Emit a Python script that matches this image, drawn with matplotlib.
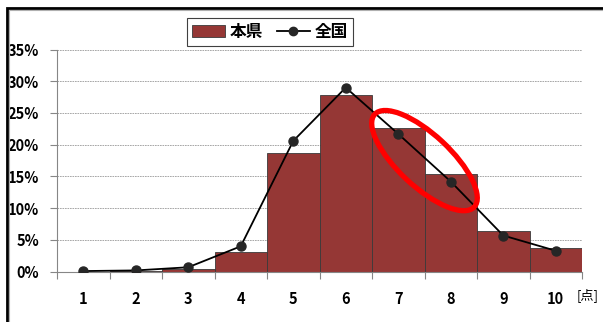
import matplotlib
matplotlib.use('Agg')
import matplotlib.pyplot as plt
import numpy as np
from matplotlib.patches import Ellipse, Patch, Rectangle
from matplotlib.lines import Line2D
from matplotlib.transforms import Affine2D, ScaledTranslation

plt.rcParams['font.family'] = ['Noto Sans CJK JP', 'DejaVu Sans']

# score distribution: prefecture (bars) vs national (line)
scores = [1, 2, 3, 4, 5, 6, 7, 8, 9, 10]
pref = [0.0002, 0.0008, 0.0047, 0.031, 0.187, 0.278, 0.227, 0.154, 0.064, 0.038]
national = [0.001, 0.002, 0.007, 0.040, 0.206, 0.290, 0.217, 0.142, 0.057, 0.033]
yticks = [0, 0.05, 0.10, 0.15, 0.20, 0.25, 0.30, 0.35]

fig = plt.figure(figsize=(6.03, 3.22), dpi=100)
ax = fig.add_axes([57/603, 1-271.7/322, 525/603, 222.2/322])

ax.bar(scores, pref, width=1.0, color='#953735', edgecolor='#3a3a3a', linewidth=0.6, zorder=2)
ax.plot(scores, national, color='black', lw=1.3, marker='o', markersize=6.5,
        markerfacecolor='#262626', markeredgecolor='#262626', zorder=3)

ax.set_xlim(0.5, 10.5)
ax.set_ylim(0, 0.35)
ax.set_yticks(yticks)
ax.set_yticklabels(['%d%%' % round(v*100) for v in yticks])
ax.yaxis.grid(True, color='#9a9a9a', linestyle=(0, (2, 1)), linewidth=0.6, zorder=0)

# ticks at the category boundaries, labels at the centres
ax.set_xticks(np.arange(0.5, 11, 1.0))
ax.set_xticklabels([])
ax.set_xticks(scores, minor=True)
ax.set_xticklabels([str(s) for s in scores], minor=True)
ax.tick_params(axis='x', which='major', length=5, color='#868686', width=0.8)
ax.tick_params(axis='x', which='minor', length=0, pad=14)
ax.tick_params(axis='y', length=5, color='#868686', width=0.8, pad=8)
for lab in ax.get_xticklabels(minor=True) + ax.get_yticklabels():
    lab.set_fontsize(10.5)
    lab.set_fontweight('bold')

for s in ['top', 'right']:
    ax.spines[s].set_visible(False)
for s in ['left', 'bottom']:
    ax.spines[s].set_color('#868686')
    ax.spines[s].set_linewidth(0.8)

# unit label, kept inside the figure edge
fig.text(577/603, 1-295/322, '[点]', fontsize=9.5, ha='left', va='center', color='black')

# highlight around scores 7-8
tr = Affine2D() + ScaledTranslation(7.5, 0.175, ax.transData)
ax.add_patch(Ellipse((0, 0), 136, 52, angle=-43, transform=tr, fill=False,
                     edgecolor='red', linewidth=3.8, zorder=5, clip_on=False))

handles = [Patch(facecolor='#953735', edgecolor='#3a3a3a', linewidth=0.6),
           Line2D([], [], color='black', lw=1.3, marker='o', markersize=6,
                  markerfacecolor='#262626', markeredgecolor='#262626')]
leg = fig.legend(handles, ['本県', '全国'], loc='center', ncol=2,
                 bbox_to_anchor=(270/603, 1-32/322), bbox_transform=fig.transFigure,
                 prop={'size': 12, 'weight': 'bold'}, fancybox=False,
                 edgecolor='#404040', framealpha=1, handlelength=2.0,
                 handletextpad=0.3, columnspacing=0.8, borderpad=0.3)
leg.get_frame().set_linewidth(0.8)

# outer chart frame
fig.add_artist(Rectangle((7/603, -0.2), 1.2, 1.2 - 8/322, transform=fig.transFigure,
                         fill=False, edgecolor='black', linewidth=2.0))
fig.add_artist(Rectangle((9/603, -0.2), 1.2, 1.2 - 10/322, transform=fig.transFigure,
                         fill=False, edgecolor='#b0b0b0', linewidth=0.8))

fig.savefig('out.png', dpi=100)
